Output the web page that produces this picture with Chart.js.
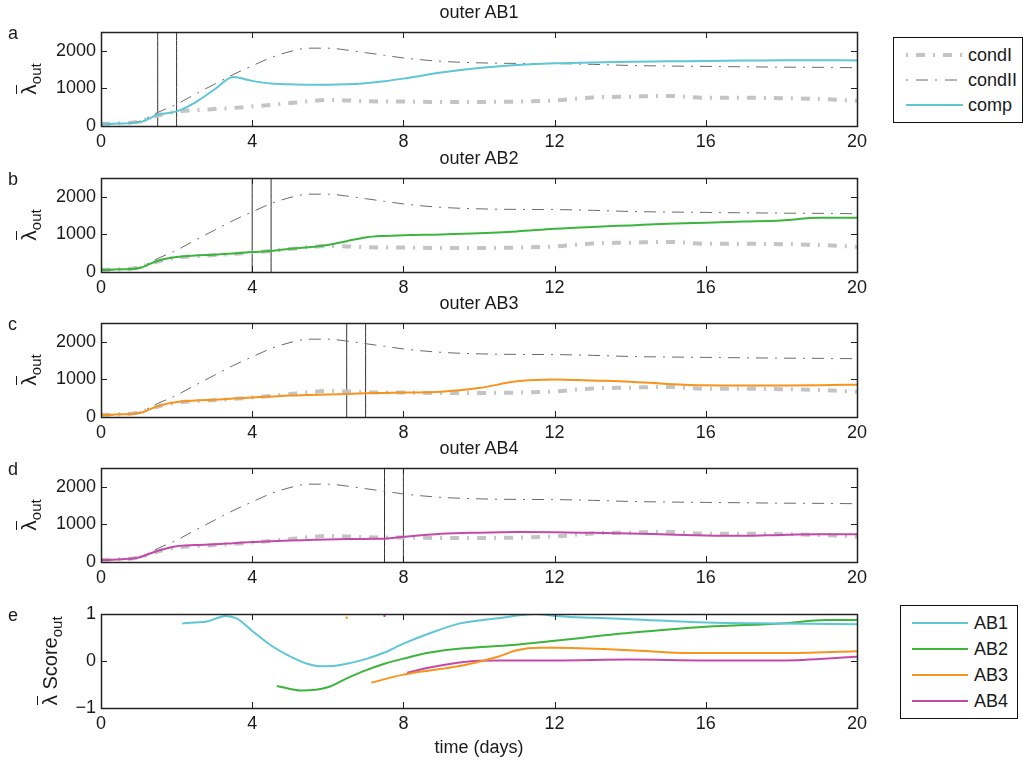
<!DOCTYPE html>
<html><head><meta charset="utf-8">
<script src="https://cdn.jsdelivr.net/npm/chart.js@4.4.0/dist/chart.umd.min.js"></script>
<style>
body{margin:0;background:#fff;width:1023px;height:762px;overflow:hidden;position:relative;font-family:"Liberation Sans",Arial,Helvetica,sans-serif;color:#1a1a1a}
canvas{position:absolute;left:0}
.t{position:absolute;font-size:18px;line-height:18px;white-space:nowrap}
.title{width:400px;text-align:center}
.ylab{width:200px;text-align:center;transform:rotate(-90deg);transform-origin:50% 50%;font-size:20px;line-height:20px}
.ylab .lam{display:inline-block;position:relative;font-size:21px}
.ylab .lam::before{content:"";position:absolute;left:1px;right:1px;top:-3px;border-top:1.5px solid #1a1a1a}
.ylab sub{font-size:15px;vertical-align:-5px;line-height:0}
.legend{position:absolute;border:1px solid #111;background:#fff}
.legend .row{position:absolute;left:0;height:20px;width:100%}
.legend .row span{position:absolute;font-size:18px;line-height:20px;top:0}
.legend svg{position:absolute;top:0}
</style></head><body>
<script>
// ---------- data ----------
const tDays = [0,0.5,1,1.5,2,2.5,3,3.5,4,4.5,5,5.5,6,6.5,7,7.5,8,9,10,11,12,13,14,15,16,17,18,19,20];
const condI  = [60,70,120,280,380,420,450,480,520,560,610,660,690,680,660,650,650,640,640,650,680,760,780,800,750,750,740,720,670];
const condII = [50,60,120,360,580,850,1110,1370,1600,1820,1980,2070,2070,2020,1950,1880,1810,1720,1680,1665,1660,1640,1610,1595,1585,1575,1565,1560,1550];
const compAB1 = [50,65,90,300,390,630,970,1300,1200,1130,1110,1100,1100,1110,1140,1190,1260,1420,1540,1620,1670,1690,1710,1720,1730,1740,1750,1750,1745];
const compAB2 = [50,70,100,300,400,440,460,490,530,560,620,660,720,820,920,960,980,1000,1030,1080,1150,1200,1240,1280,1310,1340,1370,1440,1440];
const compAB3 = [50,70,100,290,400,440,460,490,520,545,570,585,600,615,630,640,650,670,770,950,1000,970,940,880,845,840,840,845,860];
const compAB4 = [50,70,120,300,420,450,470,500,530,550,570,585,600,610,615,620,670,750,780,795,790,775,760,730,705,695,720,735,735];
const vLines = [[1.5,2],[4,4.5],[6.5,7],[7.5,8]];

const scoreX_AB1 = [2.15,2.5,2.8,3.3,3.6,4,4.5,5,5.5,5.8,6.2,6.5,7,7.5,8,8.7,9.5,10.5,11.5,12,13,14,16,18,20];
const scoreY_AB1 = [0.80,0.82,0.84,0.96,0.9,0.64,0.33,0.1,-0.07,-0.11,-0.1,-0.06,0.04,0.18,0.37,0.59,0.8,0.91,1.0,0.96,0.92,0.89,0.82,0.8,0.78];
const scoreX_AB2 = [4.65,5.3,6,6.5,7,7.5,8,8.7,9.6,10.9,12,14,16,18,19.2,20];
const scoreY_AB2 = [-0.53,-0.63,-0.56,-0.37,-0.2,-0.06,0.05,0.18,0.27,0.34,0.43,0.6,0.73,0.8,0.87,0.87];
const scoreX_AB3 = [7.15,8,8.7,9.6,10.5,11,11.6,12,14,15.6,18,20];
const scoreY_AB3 = [-0.46,-0.29,-0.2,-0.09,0.09,0.23,0.28,0.28,0.23,0.17,0.17,0.21];
const scoreX_AB4 = [8.1,8.7,9.6,10.5,12,14,16,18,20];
const scoreY_AB4 = [-0.25,-0.14,-0.02,0.01,0.01,0.03,0.01,0.01,0.09];
const scoreMarkX = [1.5,4,6.5,7.5];
const scoreMarkY = [1.0,1.0,0.92,0.96];

const xTicks = [0,4,8,12,16,20];
const yTicksMain = [0,1000,2000];
const yTicksScore = [-1,0,1];
const seriesNames = ['AB1','AB2','AB3','AB4'];
const panelLetters = ['a','b','c','d','e'];
const condLegend = ['condI','condII','comp'];

// ---------- styles ----------
const compColors = ['#5fc6d5','#3db43d','#f7941d','#c24ba9'];
const panelTops = [32,178,323,468,614];
const PH = 94, LEFT = 101, RIGHT = 857, CW = 880, PADT = 25, XH = 30;

const framePlugin = {
  id:'frame',
  afterDatasetsDraw(chart){
    const {ctx, chartArea:a, scales} = chart;
    ctx.save();
    ctx.strokeStyle = '#222'; ctx.lineWidth = 1;
    ctx.beginPath();
    scales.x.ticks.forEach(t=>{
      const px = Math.round(scales.x.getPixelForValue(t.value))+0.5;
      ctx.moveTo(px,a.bottom); ctx.lineTo(px,a.bottom-6);
      ctx.moveTo(px,a.top); ctx.lineTo(px,a.top+6);
    });
    scales.y.ticks.forEach(t=>{
      const py = Math.round(scales.y.getPixelForValue(t.value))+0.5;
      ctx.moveTo(a.left,py); ctx.lineTo(a.left+6,py);
      ctx.moveTo(a.right,py); ctx.lineTo(a.right-6,py);
    });
    ctx.stroke();
    ctx.lineWidth = 1.5;
    ctx.strokeRect(Math.round(a.left)+0.5, Math.round(a.top)+0.5, Math.round(a.right-a.left), Math.round(a.bottom-a.top));
    ctx.restore();
  }
};

function addEl(cls, html, style){
  const d = document.createElement('div');
  d.className = cls; d.innerHTML = html;
  Object.assign(d.style, style);
  document.body.appendChild(d);
  return d;
}

function pts(xs, ys){ return xs.map((x,i)=>({x:x,y:ys[i]})); }

function makePanel(idx, datasets, yMin, yMax, yTicks){
  const c = document.createElement('canvas');
  c.width = CW; c.height = PADT+PH+XH;
  c.style.top = (panelTops[idx]-PADT)+'px';
  document.body.appendChild(c);
  new Chart(c, {
    type:'line',
    data:{datasets},
    options:{
      responsive:false, animation:false, devicePixelRatio:1,
      layout:{padding:{top:PADT,left:0,right:CW-RIGHT,bottom:0}},
      plugins:{legend:{display:false},tooltip:{enabled:false}},
      elements:{point:{radius:0},line:{cubicInterpolationMode:'monotone'}},
      scales:{
        x:{type:'linear',min:0,max:20,
           grid:{display:false,drawTicks:false},border:{display:false},
           afterBuildTicks(s){ s.ticks = xTicks.map(v=>({value:v})); },
           afterFit(s){ s.height = XH; },
           ticks:{padding:5,color:'#1a1a1a',font:{family:'"Liberation Sans", Arial',size:18},maxRotation:0,autoSkip:false,
                  callback:v=>String(v)}},
        y:{type:'linear',min:yMin,max:yMax,
           grid:{display:false,drawTicks:false},border:{display:false},
           afterBuildTicks(s){ s.ticks = yTicks.map(v=>({value:v})); },
           afterFit(s){ s.width = LEFT; },
           ticks:{padding:5,color:'#1a1a1a',font:{family:'"Liberation Sans", Arial',size:18},autoSkip:false,
                  callback:v=> v<0 ? '\u2212'+Math.abs(v) : String(v)}}
      }
    },
    plugins:[framePlugin]
  });
}

const comps = [compAB1,compAB2,compAB3,compAB4];
for(let i=0;i<4;i++){
  const ds = [
    {label:'comp', data:pts(tDays,comps[i]), borderColor:compColors[i], borderWidth:2},
    {label:'condII', data:pts(tDays,condII), borderColor:'#6a6a6a', borderWidth:1, borderDash:[12,7,2,7]},
    {label:'condI', data:pts(tDays,condI), borderColor:'#c4c4c6', borderWidth:4, borderDash:[9,8,2,8]},
  ];
  vLines[i].forEach(v=>ds.push({data:[{x:v,y:0},{x:v,y:2500}], borderColor:'#333', borderWidth:1}));
  makePanel(i, ds, 0, 2500, yTicksMain);
}
const sX = [scoreX_AB1,scoreX_AB2,scoreX_AB3,scoreX_AB4];
const sY = [scoreY_AB1,scoreY_AB2,scoreY_AB3,scoreY_AB4];
const sds = [];
for(let i=0;i<4;i++){
  sds.push({label:seriesNames[i], data:pts(sX[i],sY[i]), borderColor:compColors[i], borderWidth:2});
}
for(let i=0;i<4;i++){
  sds.push({data:[{x:scoreMarkX[i],y:scoreMarkY[i]}], showLine:false, pointRadius:1.2, pointBackgroundColor:compColors[i], pointBorderWidth:0});
}
makePanel(4, sds, -1, 1, yTicksScore);

// ---------- text ----------
for(let i=0;i<4;i++){
  addEl('t title','outer '+seriesNames[i],{left:(479-200)+'px', top:(panelTops[i]-14.5-15)+'px'});
}
for(let i=0;i<5;i++){
  addEl('t',panelLetters[i],{left:'8px', top:(panelTops[i]+6.5-15)+'px'});
}
for(let i=0;i<4;i++){
  const cy = panelTops[i]+PH/2;
  addEl('t ylab','<span class="lam">\u03bb</span><sub>out</sub>',{left:(29-100)+'px', top:(cy-10)+'px'});
}
addEl('t ylab','<span class="lam">\u03bb</span> Score<sub>out</sub>',{left:(50-100)+'px', top:(panelTops[4]+PH/2-10)+'px'});
addEl('t title','time (days)',{left:(479-200)+'px', top:(747-9)+'px'});

// ---------- legends ----------
function legend(box, rows, lineX0, lineX1, textX){
  const lg = document.createElement('div');
  lg.className='legend';
  Object.assign(lg.style,{left:box[0]+'px',top:box[1]+'px',width:(box[2]-box[0])+'px',height:(box[3]-box[1])+'px'});
  rows.forEach(r=>{
    const row = document.createElement('div');
    row.className='row'; row.style.top=(r.y-box[1]-10)+'px';
    const dash = r.dash ? `stroke-dasharray="${r.dash.join(' ')}"` : '';
    row.innerHTML = `<svg width="${lineX1-box[0]}" height="20" style="left:0"><line x1="${lineX0-box[0]}" y1="10" x2="${lineX1-box[0]}" y2="10" stroke="${r.color}" stroke-width="${r.w}" ${dash}/></svg><span style="left:${textX-box[0]}px">${r.label}</span>`;
    lg.appendChild(row);
  });
  document.body.appendChild(lg);
}
legend([893,37,1021,121],[
  {label:condLegend[0],color:'#c4c4c6',w:4,dash:[2,8,9,8],y:54},
  {label:condLegend[1],color:'#6a6a6a',w:1,dash:[2,8,12,7],y:79},
  {label:condLegend[2],color:compColors[0],w:2,y:104}
],905,962,967);
legend([900,605,1016,717],seriesNames.map((n,i)=>({label:n,color:compColors[i],w:2,y:622+26*i})),911,967,973);
</script>
</body></html>
